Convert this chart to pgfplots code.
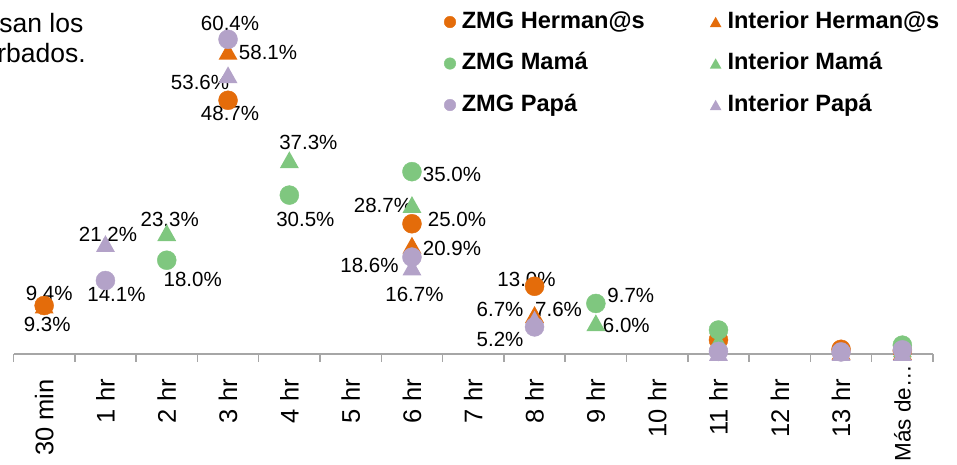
\documentclass[border=0pt]{standalone}
\usepackage{fontspec}
\setmainfont{Liberation Sans}
\usepackage{pgfplots}
\pgfplotsset{compat=1.18}
\definecolor{cOr}{HTML}{E46C0A}
\definecolor{cGr}{HTML}{7FC77F}
\definecolor{cPu}{HTML}{B3A2C8}
\definecolor{cAx}{HTML}{A6A6A6}
\pgfdeclareplotmark{xtri}{%
  \pgfpathmoveto{\pgfqpoint{0pt}{0.8\pgfplotmarksize}}%
  \pgfpathlineto{\pgfqpoint{0.9\pgfplotmarksize}{-0.8\pgfplotmarksize}}%
  \pgfpathlineto{\pgfqpoint{-0.9\pgfplotmarksize}{-0.8\pgfplotmarksize}}%
  \pgfpathclose\pgfusepathqfill}
\tikzset{lbl/.style={font=\fontsize{20.5}{22}\selectfont, inner sep=0pt}}
\begin{document}
\begin{tikzpicture}
\begin{axis}[
  at={(13.5pt,111pt)}, anchor=south west,
  scale only axis, width=919.5pt, height=354pt,
  xmin=-0.5, xmax=14.5, ymin=0, ymax=67.95,
  axis y line=none, axis x line=bottom,
  x axis line style={-, cAx, line width=1.5pt},
  xtick={0,...,14},
  xticklabels={30 min,1 hr,2 hr,3 hr,4 hr,5 hr,6 hr,7 hr,8 hr,9 hr,10 hr,11 hr,12 hr,13 hr,{\fontsize{22.5}{24}\selectfont Más de…\kern-14pt}},
  major tick length=0pt,
  minor xtick={-0.5,0.5,...,14.5},
  minor tick length=8pt,
  tick align=outside,
  minor tick style={cAx, line width=1.5pt},
  xticklabel style={rotate=90, anchor=east, inner sep=0pt, font=\fontsize{25.5}{28}\selectfont},
  xticklabel shift=25pt,
  ytick=\empty,
  clip=false,
  legend columns=2,
  legend cell align=left,
  legend style={at={(0.4684,0.9689)}, anchor=north west, draw=none, fill=none,
    inner sep=0pt, outer sep=0pt,
    font=\fontsize{23.6}{27}\selectfont\bfseries, row sep=19.5pt,
    nodes={inner sep=0pt, text height=17pt, text depth=5pt},
    /tikz/every odd column/.append style={column sep=6pt},
    /tikz/every even column/.append style={column sep=65pt}},
  legend image code/.code={\draw[#1] plot coordinates {(0pt,0pt)};},
]
\addlegendimage{only marks, mark=*, mark size=5.8pt, cOr}
\addlegendentry{ZMG Herman@s}
\addlegendimage{only marks, mark=xtri, mark size=6.5pt, cOr}
\addlegendentry{Interior Herman@s}
\addlegendimage{only marks, mark=*, mark size=5.8pt, cGr}
\addlegendentry{ZMG Mamá}
\addlegendimage{only marks, mark=xtri, mark size=6.5pt, cGr}
\addlegendentry{Interior Mamá}
\addlegendimage{only marks, mark=*, mark size=5.8pt, cPu}
\addlegendentry{ZMG Papá}
\addlegendimage{only marks, mark=xtri, mark size=6.5pt, cPu}
\addlegendentry{Interior Papá}

% ZMG Herman@s
\addplot[forget plot, only marks, mark=*, mark size=9.5pt, color=cOr] coordinates
  {(0,9.3) (3,48.7) (6,25.0) (8,13.0) (11,2.7) (13,0.9) (14,0.6)};
% Interior Herman@s
\addplot[forget plot, only marks, mark=xtri, mark size=10.5pt, color=cOr] coordinates
  {(0,9.4) (3,58.1) (6,20.9) (8,7.6) (11,2.0) (13,0.5) (14,0.5)};
% ZMG Mama
\addplot[forget plot, only marks, mark=*, mark size=9.5pt, color=cGr] coordinates
  {(2,18.0) (4,30.5) (6,35.0) (9,9.7) (11,4.6) (14,1.7)};
% Interior Mama
\addplot[forget plot, only marks, mark=xtri, mark size=10.5pt, color=cGr] coordinates
  {(2,23.3) (4,37.3) (6,28.7) (9,6.0) (11,2.5) (14,1.0)};
% ZMG Papa
\addplot[forget plot, only marks, mark=*, mark size=9.5pt, color=cPu] coordinates
  {(1,14.1) (3,60.4) (6,18.6) (8,5.2) (11,0.5) (13,0.4) (14,0.8)};
% Interior Papa
\addplot[forget plot, only marks, mark=xtri, mark size=10.5pt, color=cPu] coordinates
  {(1,21.2) (3,53.6) (6,16.7) (8,6.7) (11,0.3) (13,0.3) (14,0.3)};

\node[lbl, xshift=5pt, yshift=12pt] at (axis cs:0,9.4) {9.4\%};
\node[lbl, xshift=3pt, yshift=-18.5pt] at (axis cs:0,9.3) {9.3\%};
\node[lbl, xshift=2.5pt, yshift=9.5pt] at (axis cs:1,21.2) {21.2\%};
\node[lbl, xshift=11pt, yshift=-13.5pt] at (axis cs:1,14.1) {14.1\%};
\node[lbl, xshift=3pt, yshift=13.5pt] at (axis cs:2,23.3) {23.3\%};
\node[lbl, xshift=26pt, yshift=-19.3pt] at (axis cs:2,18.0) {18.0\%};
\node[lbl, xshift=2pt, yshift=16pt] at (axis cs:3,60.4) {60.4\%};
\node[lbl, xshift=40pt, yshift=-0.7pt] at (axis cs:3,58.1) {58.1\%};
\node[lbl, xshift=-28pt, yshift=-8pt] at (axis cs:3,53.6) {53.6\%};
\node[lbl, xshift=2pt, yshift=-13pt] at (axis cs:3,48.7) {48.7\%};
\node[lbl, xshift=19pt, yshift=17pt] at (axis cs:4,37.3) {37.3\%};
\node[lbl, xshift=16pt, yshift=-24pt] at (axis cs:4,30.5) {30.5\%};
\node[lbl, xshift=40pt, yshift=-3pt] at (axis cs:6,35.0) {35.0\%};
\node[lbl, xshift=-29pt, yshift=-0.5pt] at (axis cs:6,28.7) {28.7\%};
\node[lbl, xshift=45pt, yshift=4pt] at (axis cs:6,25.0) {25.0\%};
\node[lbl, xshift=40pt, yshift=-3.4pt] at (axis cs:6,20.9) {20.9\%};
\node[lbl, xshift=-42.5pt, yshift=-8.4pt] at (axis cs:6,18.6) {18.6\%};
\node[lbl, xshift=2.5pt, yshift=-27.5pt] at (axis cs:6,16.7) {16.7\%};
\node[lbl, xshift=-8pt, yshift=7pt] at (axis cs:8,13.0) {13.0\%};
\node[lbl, xshift=24pt, yshift=5pt] at (axis cs:8,7.6) {7.6\%};
\node[lbl, xshift=-34.5pt, yshift=9.6pt] at (axis cs:8,6.7) {6.7\%};
\node[lbl, xshift=-34.5pt, yshift=-12.6pt] at (axis cs:8,5.2) {5.2\%};
\node[lbl, xshift=35pt, yshift=8pt] at (axis cs:9,9.7) {9.7\%};
\node[lbl, xshift=30.5pt, yshift=-3pt] at (axis cs:9,6.0) {6.0\%};
\end{axis}
\node[anchor=base east, inner sep=0pt, font=\fontsize{26.5}{30}\selectfont] at (83.5pt,432pt) {san los};
\node[anchor=base east, inner sep=0pt, font=\fontsize{26.5}{30}\selectfont] at (86pt,402pt) {rbados.};
\pgfresetboundingbox
\path[use as bounding box] (0,0) rectangle (957pt,465pt);
\end{tikzpicture}
\end{document}
